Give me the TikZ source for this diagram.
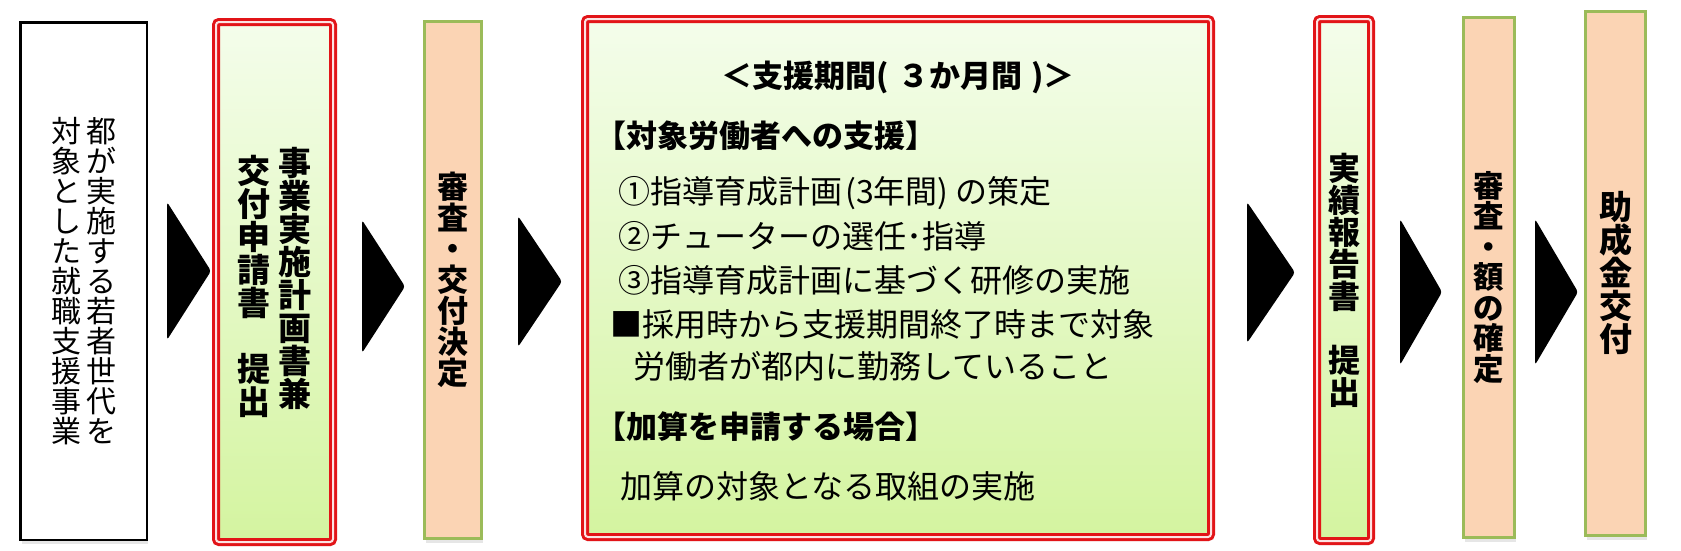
\documentclass[tikz,border=0pt]{standalone}
\usepackage{fontspec}
\setmainfont{Noto Sans CJK JP}
\usetikzlibrary{shadows}
\definecolor{peach}{HTML}{FBD4B4}
\definecolor{olive}{HTML}{9BBB59}
\definecolor{rd}{RGB}{226,20,24}
\definecolor{gtop}{HTML}{F4FDEB}
\definecolor{gbot}{HTML}{D4F4A0}
\ExplSyntaxOn
\cs_new_protected:Npn \tatecol #1 #2
  {
    \vtop
      {
        \baselineskip=#1 \lineskiplimit=-1000pt
        \tl_map_inline:nn {#2} { \hbox_to_wd:nn {1em} { \hss ##1 \hss } }
      }
  }
\ExplSyntaxOff
\begin{document}
\begin{tikzpicture}[x=1pt,y=-1pt,
  box/.style={drop shadow={opacity=0.2,shadow xshift=1.5pt,shadow yshift=-4pt}, inner sep=0pt},
  plainbox/.style={box, draw=black, line width=2.5pt, fill=white},
  redbox/.style={box, draw=rd, line width=3pt, double=rd!12, double distance=2pt, rounded corners=3pt, top color=gtop, bottom color=gbot},
  peachbox/.style={box, draw=olive, line width=3pt, fill=peach},
  chev/.style={fill=black, rounded corners=3pt},
  txt/.style={anchor=west, inner sep=0pt, font=\fontsize{32}{32}\selectfont},
  hd/.style={txt, font=\fontsize{31}{31}\selectfont\bfseries}]
\useasboundingbox (0,0) rectangle (1681,550);
\node (J) [plainbox, minimum width=126.5, minimum height=517.5] at (83.5,281)
  {\fontsize{30}{30}\selectfont\tatecol{30pt}{対象とした就職支援事業}\hskip5pt\tatecol{30pt}{都が実施する若者世代を}};
\node (A) [redbox, minimum width=117, minimum height=520] at (274.5,282)
  {\fontsize{33}{33}\selectfont\bfseries\lower8pt\tatecol{33pt}{交付申請書　提出}\hskip8pt\tatecol{33pt}{事業実施計画書兼}};
\node (E) [peachbox, minimum width=57, minimum height=517] at (453,280)
  {\fontsize{31}{31}\selectfont\bfseries\tatecol{31pt}{審査・交付決定}};
\node (S) [redbox, minimum width=626, minimum height=518] at (898,278) {};
\node (R) [redbox, minimum width=54, minimum height=522] at (1344,280)
  {\fontsize{32}{32}\selectfont\bfseries\tatecol{32pt}{実績報告書　提出}};
\node (C) [peachbox, minimum width=51, minimum height=520] at (1489,277.5)
  {\fontsize{30.5}{30.5}\selectfont\bfseries\tatecol{30.5pt}{審査・額の確定}};
\node (G) [peachbox, minimum width=60, minimum height=524] at (1615.5,273.5)
  {\fontsize{33}{33}\selectfont\bfseries\tatecol{33pt}{助成金交付}};
\node (S0) [hd, anchor=center] at (898,77) {＜支援期間(\hspace{.3em}３か月間\hspace{.3em})＞};
\node (S1) [hd] at (595,136) {【対象労働者への支援】};
\node (S2) [txt] at (618,193) {①指導育成計画\hspace{.1em}(3年間)\hspace{.2em}の策定};
\node (S3) [txt] at (618,236) {②チューターの選任･指導};
\node (S4) [txt] at (618,280) {③指導育成計画に基づく研修の実施};
\node (S5) [txt] at (610,324) {■採用時から支援期間終了時まで対象};
\node (S6) [txt] at (633,366) {労働者が都内に勤務していること};
\node (S7) [hd] at (595,427) {【加算を申請する場合】};
\node (S8) [txt] at (620,486) {加算の対象となる取組の実施};
\foreach \x/\t/\b/\p in {167/202/340/211, 362/220/353/405, 518/216/347/562,
    1247/202/343/1295, 1400/219/365/1442, 1535/219/365/1578}
  \fill[chev] (\x,\t) -- (\p,{(\t+\b)/2}) -- (\x,\b) -- cycle;
\end{tikzpicture}
\end{document}
